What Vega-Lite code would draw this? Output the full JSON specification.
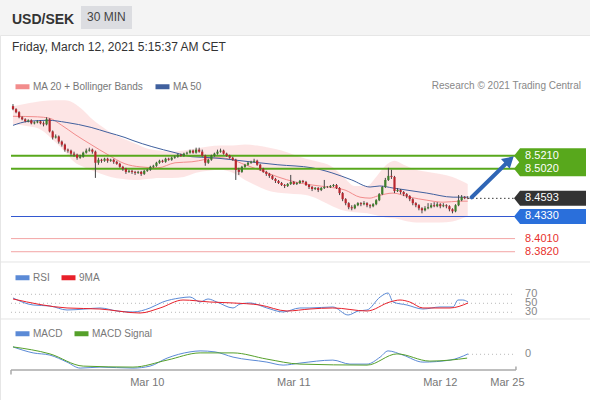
{
  "$schema": "https://vega.github.io/schema/vega-lite/v6.json",
  "width": 590,
  "height": 365,
  "autosize": {"type": "none"},
  "padding": {"top": 35, "left": 0, "right": 0, "bottom": 0},
  "background": "#f4f4f4",
  "config": {"font": "Liberation Sans", "view": {"fill": "white", "stroke": "#e6e6e6"}},
  "title": {"text": "USD/SEK", "subtitle": "Friday, March 12, 2021 5:15:37 AM CET", "anchor": "start", "frame": "group", "fontSize": 14, "fontWeight": "bold", "color": "#333333", "subtitleFontSize": 12, "subtitleColor": "#333333", "subtitlePadding": 15, "offset": -47, "dx": 12},
  "datasets": {
    "candles": [
      {"t":0,"o":8.5928,"h":8.5957,"l":8.5869,"c":8.5884},
      {"t":1,"o":8.5884,"h":8.5898,"l":8.5825,"c":8.5840},
      {"t":2,"o":8.5840,"h":8.5854,"l":8.5752,"c":8.5767},
      {"t":3,"o":8.5767,"h":8.5781,"l":8.5723,"c":8.5737},
      {"t":4,"o":8.5737,"h":8.5752,"l":8.5693,"c":8.5708},
      {"t":5,"o":8.5708,"h":8.5737,"l":8.5693,"c":8.5723},
      {"t":6,"o":8.5723,"h":8.5737,"l":8.5664,"c":8.5679},
      {"t":7,"o":8.5679,"h":8.5708,"l":8.5664,"c":8.5693},
      {"t":8,"o":8.5693,"h":8.5723,"l":8.5679,"c":8.5708},
      {"t":9,"o":8.5708,"h":8.5723,"l":8.5664,"c":8.5679},
      {"t":10,"o":8.5679,"h":8.5708,"l":8.5635,"c":8.5664},
      {"t":11,"o":8.5664,"h":8.5767,"l":8.5650,"c":8.5737},
      {"t":12,"o":8.5737,"h":8.5752,"l":8.5547,"c":8.5562},
      {"t":13,"o":8.5562,"h":8.5576,"l":8.5445,"c":8.5474},
      {"t":14,"o":8.5474,"h":8.5518,"l":8.5459,"c":8.5489},
      {"t":15,"o":8.5489,"h":8.5503,"l":8.5386,"c":8.5415},
      {"t":16,"o":8.5415,"h":8.5430,"l":8.5342,"c":8.5371},
      {"t":17,"o":8.5371,"h":8.5386,"l":8.5269,"c":8.5298},
      {"t":18,"o":8.5298,"h":8.5313,"l":8.5254,"c":8.5284},
      {"t":19,"o":8.5284,"h":8.5298,"l":8.5210,"c":8.5240},
      {"t":20,"o":8.5240,"h":8.5269,"l":8.5196,"c":8.5225},
      {"t":21,"o":8.5225,"h":8.5240,"l":8.5152,"c":8.5181},
      {"t":22,"o":8.5181,"h":8.5225,"l":8.5166,"c":8.5196},
      {"t":23,"o":8.5196,"h":8.5269,"l":8.5181,"c":8.5254},
      {"t":24,"o":8.5254,"h":8.5313,"l":8.5240,"c":8.5284},
      {"t":25,"o":8.5284,"h":8.5327,"l":8.5269,"c":8.5298},
      {"t":26,"o":8.5298,"h":8.5313,"l":8.5240,"c":8.5269},
      {"t":27,"o":8.5269,"h":8.5284,"l":8.4889,"c":8.5108},
      {"t":28,"o":8.5108,"h":8.5181,"l":8.5079,"c":8.5152},
      {"t":29,"o":8.5152,"h":8.5166,"l":8.5108,"c":8.5137},
      {"t":30,"o":8.5137,"h":8.5181,"l":8.5122,"c":8.5166},
      {"t":31,"o":8.5166,"h":8.5181,"l":8.5108,"c":8.5137},
      {"t":32,"o":8.5137,"h":8.5166,"l":8.5122,"c":8.5152},
      {"t":33,"o":8.5152,"h":8.5166,"l":8.5093,"c":8.5122},
      {"t":34,"o":8.5122,"h":8.5137,"l":8.5079,"c":8.5093},
      {"t":35,"o":8.5093,"h":8.5108,"l":8.5035,"c":8.5049},
      {"t":36,"o":8.5049,"h":8.5064,"l":8.4991,"c":8.5020},
      {"t":37,"o":8.5020,"h":8.5035,"l":8.4947,"c":8.4976},
      {"t":38,"o":8.4976,"h":8.5006,"l":8.4962,"c":8.4991},
      {"t":39,"o":8.4991,"h":8.5006,"l":8.4947,"c":8.4976},
      {"t":40,"o":8.4976,"h":8.4991,"l":8.4932,"c":8.4962},
      {"t":41,"o":8.4962,"h":8.4991,"l":8.4947,"c":8.4976},
      {"t":42,"o":8.4976,"h":8.4991,"l":8.4918,"c":8.4947},
      {"t":43,"o":8.4947,"h":8.5006,"l":8.4932,"c":8.4991},
      {"t":44,"o":8.4991,"h":8.5020,"l":8.4976,"c":8.5006},
      {"t":45,"o":8.5006,"h":8.5064,"l":8.4991,"c":8.5049},
      {"t":46,"o":8.5049,"h":8.5079,"l":8.5035,"c":8.5064},
      {"t":47,"o":8.5064,"h":8.5122,"l":8.5049,"c":8.5108},
      {"t":48,"o":8.5108,"h":8.5152,"l":8.5093,"c":8.5137},
      {"t":49,"o":8.5137,"h":8.5152,"l":8.5108,"c":8.5122},
      {"t":50,"o":8.5122,"h":8.5181,"l":8.5108,"c":8.5166},
      {"t":51,"o":8.5166,"h":8.5181,"l":8.5137,"c":8.5152},
      {"t":52,"o":8.5152,"h":8.5196,"l":8.5137,"c":8.5181},
      {"t":53,"o":8.5181,"h":8.5210,"l":8.5166,"c":8.5196},
      {"t":54,"o":8.5196,"h":8.5240,"l":8.5181,"c":8.5225},
      {"t":55,"o":8.5225,"h":8.5240,"l":8.5196,"c":8.5210},
      {"t":56,"o":8.5210,"h":8.5254,"l":8.5196,"c":8.5240},
      {"t":57,"o":8.5240,"h":8.5269,"l":8.5225,"c":8.5254},
      {"t":58,"o":8.5254,"h":8.5298,"l":8.5240,"c":8.5284},
      {"t":59,"o":8.5284,"h":8.5298,"l":8.5240,"c":8.5254},
      {"t":60,"o":8.5254,"h":8.5327,"l":8.5240,"c":8.5298},
      {"t":61,"o":8.5298,"h":8.5327,"l":8.5254,"c":8.5269},
      {"t":62,"o":8.5269,"h":8.5298,"l":8.5196,"c":8.5210},
      {"t":63,"o":8.5210,"h":8.5225,"l":8.5064,"c":8.5108},
      {"t":64,"o":8.5108,"h":8.5166,"l":8.5093,"c":8.5152},
      {"t":65,"o":8.5152,"h":8.5225,"l":8.5137,"c":8.5210},
      {"t":66,"o":8.5210,"h":8.5254,"l":8.5196,"c":8.5240},
      {"t":67,"o":8.5240,"h":8.5298,"l":8.5225,"c":8.5269},
      {"t":68,"o":8.5269,"h":8.5313,"l":8.5254,"c":8.5284},
      {"t":69,"o":8.5284,"h":8.5298,"l":8.5225,"c":8.5240},
      {"t":70,"o":8.5240,"h":8.5254,"l":8.5196,"c":8.5210},
      {"t":71,"o":8.5210,"h":8.5225,"l":8.5166,"c":8.5181},
      {"t":72,"o":8.5181,"h":8.5196,"l":8.5137,"c":8.5152},
      {"t":73,"o":8.5152,"h":8.5166,"l":8.4859,"c":8.5006},
      {"t":74,"o":8.5006,"h":8.5035,"l":8.4932,"c":8.4976},
      {"t":75,"o":8.4976,"h":8.5064,"l":8.4962,"c":8.5049},
      {"t":76,"o":8.5049,"h":8.5093,"l":8.5035,"c":8.5079},
      {"t":77,"o":8.5079,"h":8.5122,"l":8.5064,"c":8.5108},
      {"t":78,"o":8.5108,"h":8.5137,"l":8.5093,"c":8.5122},
      {"t":79,"o":8.5122,"h":8.5166,"l":8.5108,"c":8.5137},
      {"t":80,"o":8.5137,"h":8.5152,"l":8.5064,"c":8.5079},
      {"t":81,"o":8.5079,"h":8.5093,"l":8.4991,"c":8.5020},
      {"t":82,"o":8.5020,"h":8.5035,"l":8.4962,"c":8.4976},
      {"t":83,"o":8.4976,"h":8.4991,"l":8.4918,"c":8.4947},
      {"t":84,"o":8.4947,"h":8.4962,"l":8.4889,"c":8.4918},
      {"t":85,"o":8.4918,"h":8.4932,"l":8.4859,"c":8.4874},
      {"t":86,"o":8.4874,"h":8.4889,"l":8.4815,"c":8.4845},
      {"t":87,"o":8.4845,"h":8.4859,"l":8.4801,"c":8.4815},
      {"t":88,"o":8.4815,"h":8.4830,"l":8.4772,"c":8.4786},
      {"t":89,"o":8.4786,"h":8.4801,"l":8.4742,"c":8.4772},
      {"t":90,"o":8.4772,"h":8.4815,"l":8.4757,"c":8.4801},
      {"t":91,"o":8.4801,"h":8.4932,"l":8.4786,"c":8.4830},
      {"t":92,"o":8.4830,"h":8.4845,"l":8.4786,"c":8.4801},
      {"t":93,"o":8.4801,"h":8.4830,"l":8.4786,"c":8.4815},
      {"t":94,"o":8.4815,"h":8.4859,"l":8.4801,"c":8.4845},
      {"t":95,"o":8.4845,"h":8.4859,"l":8.4815,"c":8.4830},
      {"t":96,"o":8.4830,"h":8.4845,"l":8.4772,"c":8.4786},
      {"t":97,"o":8.4786,"h":8.4801,"l":8.4728,"c":8.4757},
      {"t":98,"o":8.4757,"h":8.4772,"l":8.4698,"c":8.4728},
      {"t":99,"o":8.4728,"h":8.4757,"l":8.4713,"c":8.4742},
      {"t":100,"o":8.4742,"h":8.4757,"l":8.4684,"c":8.4713},
      {"t":101,"o":8.4713,"h":8.4757,"l":8.4698,"c":8.4742},
      {"t":102,"o":8.4742,"h":8.4859,"l":8.4728,"c":8.4757},
      {"t":103,"o":8.4757,"h":8.4772,"l":8.4742,"c":8.4760},
      {"t":104,"o":8.4757,"h":8.4786,"l":8.4742,"c":8.4772},
      {"t":105,"o":8.4772,"h":8.4801,"l":8.4757,"c":8.4786},
      {"t":106,"o":8.4786,"h":8.4801,"l":8.4728,"c":8.4742},
      {"t":107,"o":8.4742,"h":8.4757,"l":8.4640,"c":8.4669},
      {"t":108,"o":8.4669,"h":8.4684,"l":8.4552,"c":8.4581},
      {"t":109,"o":8.4581,"h":8.4596,"l":8.4493,"c":8.4523},
      {"t":110,"o":8.4523,"h":8.4537,"l":8.4435,"c":8.4464},
      {"t":111,"o":8.4464,"h":8.4493,"l":8.4420,"c":8.4449},
      {"t":112,"o":8.4449,"h":8.4508,"l":8.4435,"c":8.4493},
      {"t":113,"o":8.4493,"h":8.4537,"l":8.4479,"c":8.4523},
      {"t":114,"o":8.4523,"h":8.4537,"l":8.4479,"c":8.4508},
      {"t":115,"o":8.4508,"h":8.4552,"l":8.4493,"c":8.4523},
      {"t":116,"o":8.4523,"h":8.4537,"l":8.4464,"c":8.4493},
      {"t":117,"o":8.4493,"h":8.4508,"l":8.4449,"c":8.4479},
      {"t":118,"o":8.4479,"h":8.4523,"l":8.4464,"c":8.4508},
      {"t":119,"o":8.4508,"h":8.4581,"l":8.4493,"c":8.4566},
      {"t":120,"o":8.4566,"h":8.4669,"l":8.4552,"c":8.4654},
      {"t":121,"o":8.4654,"h":8.4772,"l":8.4640,"c":8.4757},
      {"t":122,"o":8.4757,"h":8.4889,"l":8.4742,"c":8.4859},
      {"t":123,"o":8.4859,"h":8.5035,"l":8.4845,"c":8.4918},
      {"t":124,"o":8.4918,"h":8.5006,"l":8.4874,"c":8.4903},
      {"t":125,"o":8.4903,"h":8.4918,"l":8.4669,"c":8.4698},
      {"t":126,"o":8.4698,"h":8.4742,"l":8.4684,"c":8.4713},
      {"t":127,"o":8.4713,"h":8.4728,"l":8.4654,"c":8.4684},
      {"t":128,"o":8.4684,"h":8.4698,"l":8.4625,"c":8.4654},
      {"t":129,"o":8.4654,"h":8.4669,"l":8.4596,"c":8.4625},
      {"t":130,"o":8.4625,"h":8.4640,"l":8.4552,"c":8.4581},
      {"t":131,"o":8.4581,"h":8.4596,"l":8.4493,"c":8.4523},
      {"t":132,"o":8.4523,"h":8.4537,"l":8.4464,"c":8.4493},
      {"t":133,"o":8.4493,"h":8.4508,"l":8.4420,"c":8.4449},
      {"t":134,"o":8.4449,"h":8.4464,"l":8.4376,"c":8.4420},
      {"t":135,"o":8.4420,"h":8.4479,"l":8.4405,"c":8.4449},
      {"t":136,"o":8.4449,"h":8.4523,"l":8.4435,"c":8.4464},
      {"t":137,"o":8.4464,"h":8.4523,"l":8.4449,"c":8.4493},
      {"t":138,"o":8.4493,"h":8.4537,"l":8.4464,"c":8.4479},
      {"t":139,"o":8.4479,"h":8.4537,"l":8.4464,"c":8.4508},
      {"t":140,"o":8.4508,"h":8.4523,"l":8.4449,"c":8.4479},
      {"t":141,"o":8.4479,"h":8.4523,"l":8.4464,"c":8.4493},
      {"t":142,"o":8.4493,"h":8.4508,"l":8.4449,"c":8.4479},
      {"t":143,"o":8.4479,"h":8.4493,"l":8.4405,"c":8.4435},
      {"t":144,"o":8.4435,"h":8.4449,"l":8.4376,"c":8.4405},
      {"t":145,"o":8.4405,"h":8.4508,"l":8.4391,"c":8.4493},
      {"t":146,"o":8.4493,"h":8.4640,"l":8.4479,"c":8.4566},
      {"t":147,"o":8.4566,"h":8.4640,"l":8.4552,"c":8.4610},
      {"t":148,"o":8.4610,"h":8.4625,"l":8.4581,"c":8.4596},
      {"t":149,"o":8.4596,"h":8.4625,"l":8.4581,"c":8.4593}
    ],
    "bands": [
      {"t":0,"upper":8.5928,"lower":8.5664},
      {"t":5,"upper":8.5971,"lower":8.5635},
      {"t":9,"upper":8.6000,"lower":8.5591},
      {"t":14,"upper":8.6014,"lower":8.5401},
      {"t":17,"upper":8.6014,"lower":8.5269},
      {"t":20,"upper":8.5971,"lower":8.5122},
      {"t":23,"upper":8.5869,"lower":8.5049},
      {"t":26,"upper":8.5737,"lower":8.4991},
      {"t":29,"upper":8.5635,"lower":8.4947},
      {"t":32,"upper":8.5547,"lower":8.4903},
      {"t":36,"upper":8.5459,"lower":8.4874},
      {"t":40,"upper":8.5386,"lower":8.4859},
      {"t":44,"upper":8.5313,"lower":8.4874},
      {"t":48,"upper":8.5284,"lower":8.4889},
      {"t":52,"upper":8.5269,"lower":8.4889},
      {"t":56,"upper":8.5284,"lower":8.4903},
      {"t":60,"upper":8.5313,"lower":8.4962},
      {"t":64,"upper":8.5342,"lower":8.4991},
      {"t":68,"upper":8.5357,"lower":8.5006},
      {"t":72,"upper":8.5357,"lower":8.4962},
      {"t":76,"upper":8.5371,"lower":8.4859},
      {"t":80,"upper":8.5357,"lower":8.4772},
      {"t":84,"upper":8.5327,"lower":8.4698},
      {"t":88,"upper":8.5284,"lower":8.4669},
      {"t":92,"upper":8.5225,"lower":8.4654},
      {"t":96,"upper":8.5166,"lower":8.4640},
      {"t":100,"upper":8.5122,"lower":8.4581},
      {"t":104,"upper":8.5064,"lower":8.4493},
      {"t":108,"upper":8.4918,"lower":8.4420},
      {"t":112,"upper":8.4772,"lower":8.4391},
      {"t":116,"upper":8.4772,"lower":8.4376},
      {"t":119,"upper":8.4903,"lower":8.4347},
      {"t":122,"upper":8.5064,"lower":8.4317},
      {"t":125,"upper":8.5137,"lower":8.4303},
      {"t":128,"upper":8.5079,"lower":8.4273},
      {"t":132,"upper":8.5006,"lower":8.4244},
      {"t":136,"upper":8.4976,"lower":8.4244},
      {"t":140,"upper":8.4947,"lower":8.4244},
      {"t":144,"upper":8.4903,"lower":8.4259},
      {"t":149,"upper":8.4801,"lower":8.4332}
    ],
    "ma": [
      {"s":"ma20","t":0,"price":8.5781},{"s":"ma20","t":8,"price":8.5773},{"s":"ma20","t":12,"price":8.5752},{"s":"ma20","t":16,"price":8.5650},
      {"s":"ma20","t":20.3,"price":8.5518},{"s":"ma20","t":25.6,"price":8.5371},{"s":"ma20","t":31.1,"price":8.5225},{"s":"ma20","t":36.7,"price":8.5093},
      {"s":"ma20","t":41.6,"price":8.5049},{"s":"ma20","t":47.5,"price":8.5035},{"s":"ma20","t":53.1,"price":8.5108},{"s":"ma20","t":58.6,"price":8.5122},
      {"s":"ma20","t":67.2,"price":8.5181},{"s":"ma20","t":71.8,"price":8.5152},{"s":"ma20","t":76,"price":8.5079},{"s":"ma20","t":81.6,"price":8.4991},
      {"s":"ma20","t":86.8,"price":8.4903},{"s":"ma20","t":92.4,"price":8.4830},{"s":"ma20","t":98,"price":8.4786},{"s":"ma20","t":103.2,"price":8.4757},
      {"s":"ma20","t":108.8,"price":8.4713},{"s":"ma20","t":113.7,"price":8.4610},{"s":"ma20","t":117,"price":8.4596},{"s":"ma20","t":119.3,"price":8.4625},
      {"s":"ma20","t":124.5,"price":8.4669},{"s":"ma20","t":130,"price":8.4610},{"s":"ma20","t":135.6,"price":8.4566},{"s":"ma20","t":140.9,"price":8.4537},
      {"s":"ma20","t":146.5,"price":8.4552},{"s":"ma20","t":149,"price":8.4552},
      {"s":"ma50","t":0,"price":8.5650},{"s":"ma50","t":5,"price":8.5708},{"s":"ma50","t":11.5,"price":8.5723},{"s":"ma50","t":17.4,"price":8.5693},
      {"s":"ma50","t":25.6,"price":8.5620},{"s":"ma50","t":31.1,"price":8.5547},{"s":"ma50","t":36.7,"price":8.5474},{"s":"ma50","t":39.3,"price":8.5430},
      {"s":"ma50","t":45.5,"price":8.5342},{"s":"ma50","t":53.1,"price":8.5254},{"s":"ma50","t":58.6,"price":8.5196},{"s":"ma50","t":65.2,"price":8.5181},
      {"s":"ma50","t":71.8,"price":8.5152},{"s":"ma50","t":77.7,"price":8.5122},{"s":"ma50","t":86.8,"price":8.5079},{"s":"ma50","t":98,"price":8.5035},
      {"s":"ma50","t":104.5,"price":8.4962},{"s":"ma50","t":111,"price":8.4859},{"s":"ma50","t":117,"price":8.4757},{"s":"ma50","t":120.2,"price":8.4772},
      {"s":"ma50","t":124.5,"price":8.4742},{"s":"ma50","t":135.6,"price":8.4669},{"s":"ma50","t":144.2,"price":8.4610},{"s":"ma50","t":149,"price":8.4610}
    ],
    "levels": [
      {"price":8.5210,"label":"8.5210","kind":"resistance"},
      {"price":8.5020,"label":"8.5020","kind":"resistance"},
      {"price":8.4593,"label":"8.4593","kind":"last"},
      {"price":8.4330,"label":"8.4330","kind":"support"},
      {"price":8.4010,"label":"8.4010","kind":"support2"},
      {"price":8.3820,"label":"8.3820","kind":"support2"}
    ],
    "arrow": [
      {"t":150.3,"price":8.4608},
      {"t":162.7,"price":8.5146}
    ],
    "credit": [{"text":"Research © 2021 Trading Central"}],
    "days": [
      {"t":44,"label":"Mar 10"},
      {"t":92,"label":"Mar 11"},
      {"t":140,"label":"Mar 12"},
      {"t":162,"label":"Mar 25"}
    ],
    "rsi": [
      {"s":"RSI","t":0,"v":61.8},{"s":"RSI","t":6.6,"v":46.2},{"s":"RSI","t":12.1,"v":44},{"s":"RSI","t":17.7,"v":35.1},{"s":"RSI","t":23.6,"v":37.3},
      {"s":"RSI","t":28.5,"v":39.6},{"s":"RSI","t":34.1,"v":32.9},{"s":"RSI","t":39.3,"v":30.7},{"s":"RSI","t":44.9,"v":39.6},{"s":"RSI","t":49.1,"v":52.9},
      {"s":"RSI","t":54.7,"v":61.8},{"s":"RSI","t":58,"v":64},{"s":"RSI","t":61.3,"v":52.9},{"s":"RSI","t":63.9,"v":59.6},{"s":"RSI","t":66.8,"v":52.9},
      {"s":"RSI","t":72.1,"v":39.6},{"s":"RSI","t":74.4,"v":48.4},{"s":"RSI","t":77.7,"v":50.7},{"s":"RSI","t":83.2,"v":39.6},{"s":"RSI","t":88.5,"v":30.7},
      {"s":"RSI","t":94,"v":39.6},{"s":"RSI","t":97.3,"v":39.6},{"s":"RSI","t":104.8,"v":41.8},{"s":"RSI","t":109.8,"v":24},{"s":"RSI","t":113.1,"v":32.9},
      {"s":"RSI","t":116,"v":35.1},{"s":"RSI","t":120.3,"v":64},{"s":"RSI","t":122.9,"v":72.9},{"s":"RSI","t":124.5,"v":52.9},{"s":"RSI","t":129.1,"v":46.2},
      {"s":"RSI","t":134.3,"v":37.3},{"s":"RSI","t":139.9,"v":41.8},{"s":"RSI","t":144.2,"v":41.8},{"s":"RSI","t":145.8,"v":57.3},{"s":"RSI","t":147.4,"v":57.3},
      {"s":"RSI","t":149.1,"v":52.9},
      {"s":"9MA","t":0,"v":59.6},{"s":"9MA","t":17.7,"v":39.6},{"s":"9MA","t":28.5,"v":37.3},{"s":"9MA","t":41.6,"v":28.4},{"s":"9MA","t":48.2,"v":39.6},
      {"s":"9MA","t":55.7,"v":57.3},{"s":"9MA","t":64.5,"v":52.9},{"s":"9MA","t":72.1,"v":50.7},{"s":"9MA","t":80.9,"v":46.2},{"s":"9MA","t":89.8,"v":32.9},
      {"s":"9MA","t":97.3,"v":37.3},{"s":"9MA","t":104.8,"v":39.6},{"s":"9MA","t":116,"v":32.9},{"s":"9MA","t":123.5,"v":52.9},{"s":"9MA","t":126.8,"v":57.3},
      {"s":"9MA","t":130,"v":52.9},{"s":"9MA","t":134.3,"v":39.6},{"s":"9MA","t":143.2,"v":39.6},{"s":"9MA","t":149.1,"v":50.7}
    ],
    "rsiLevels": [{"lvl":70},{"lvl":50},{"lvl":30}],
    "macd": [
      {"s":"MACD","t":0,"v":0.0037},{"s":"MACD","t":6.6,"v":0.0007},{"s":"MACD","t":12.1,"v":-0.0004},{"s":"MACD","t":17.7,"v":-0.0039},{"s":"MACD","t":22,"v":-0.0069},
      {"s":"MACD","t":28.5,"v":-0.0064},{"s":"MACD","t":39.3,"v":-0.0069},{"s":"MACD","t":44.9,"v":-0.0059},{"s":"MACD","t":50.5,"v":-0.0019},{"s":"MACD","t":58,"v":0.0012},
      {"s":"MACD","t":61.3,"v":0.0017},{"s":"MACD","t":66.2,"v":0.0012},{"s":"MACD","t":72.1,"v":-0.0014},{"s":"MACD","t":83.2,"v":-0.0039},{"s":"MACD","t":88.5,"v":-0.0054},
      {"s":"MACD","t":94,"v":-0.0044},{"s":"MACD","t":104.8,"v":-0.0029},{"s":"MACD","t":110.4,"v":-0.0049},{"s":"MACD","t":116,"v":-0.0049},{"s":"MACD","t":120.3,"v":-0.0014},
      {"s":"MACD","t":122.9,"v":0.0017},{"s":"MACD","t":127.8,"v":-0.0004},{"s":"MACD","t":134.3,"v":-0.0039},{"s":"MACD","t":143.2,"v":-0.0029},{"s":"MACD","t":149.1,"v":0.0002},
      {"s":"MACD Signal","t":0,"v":0.0037},{"s":"MACD Signal","t":12.1,"v":0.0002},{"s":"MACD Signal","t":23,"v":-0.0059},{"s":"MACD Signal","t":39.3,"v":-0.0064},
      {"s":"MACD Signal","t":50.5,"v":-0.0029},{"s":"MACD Signal","t":61.3,"v":0.0007},{"s":"MACD Signal","t":72.1,"v":0.0007},{"s":"MACD Signal","t":83.2,"v":-0.0024},
      {"s":"MACD Signal","t":94,"v":-0.0049},{"s":"MACD Signal","t":116,"v":-0.0054},{"s":"MACD Signal","t":125.8,"v":0.0002},{"s":"MACD Signal","t":136.6,"v":-0.0034},
      {"s":"MACD Signal","t":143.2,"v":-0.0029},{"s":"MACD Signal","t":148.8,"v":-0.0019}
    ],
    "macdLevels": [{"lvl":0}]
  },
  "layer": [
    {
      "layer": [
        {
          "data": {"name": "bands"},
          "mark": {"type": "area", "color": "#fbd3d3", "opacity": 0.6, "interpolate": "monotone"},
          "encoding": {
            "x": {"field": "t", "type": "quantitative", "scale": {"domain": [-4.259, 189.06], "nice": false, "zero": false}, "axis": null},
            "y": {"field": "upper", "type": "quantitative", "scale": {"domain": [8.1673, 8.6958], "nice": false, "zero": false}, "axis": null},
            "y2": {"field": "lower"}
          }
        },
        {
          "data": {"name": "ma"},
          "mark": {"type": "line", "strokeWidth": 1, "interpolate": "monotone"},
          "encoding": {
            "x": {"field": "t", "type": "quantitative", "scale": {"domain": [-4.259, 189.06], "nice": false, "zero": false}, "axis": null},
            "y": {"field": "price", "type": "quantitative", "scale": {"domain": [8.1673, 8.6958], "nice": false, "zero": false}, "axis": null},
            "color": {"field": "s", "type": "nominal", "scale": {"domain": ["ma20", "ma50"], "range": ["#f28c8c", "#40609e"]},
              "legend": {"orient": "none", "legendX": 13, "legendY": 42, "direction": "horizontal", "title": null, "labelExpr": "datum.label == 'ma20' ? 'MA 20 + Bollinger Bands' : 'MA 50'", "symbolType": "stroke", "symbolSize": 196, "symbolStrokeWidth": 5, "labelFontSize": 10, "labelColor": "#777777", "labelOffset": 1, "columnPadding": 1, "padding": 0}}
          }
        },
        {
          "data": {"name": "credit"},
          "mark": {"type": "text", "align": "right", "baseline": "middle", "fontSize": 10, "fill": "#888888"},
          "encoding": {
            "x": {"datum": 186.1, "type": "quantitative", "scale": {"domain": [-4.259, 189.06], "nice": false, "zero": false}, "axis": null},
            "y": {"datum": 8.6219, "type": "quantitative", "scale": {"domain": [8.1673, 8.6958], "nice": false, "zero": false}, "axis": null},
            "text": {"field": "text"}
          }
        },
        {
          "data": {"name": "levels"},
          "transform": [{"filter": "datum.kind == 'resistance'"}],
          "mark": {"type": "rule", "color": "#58a81c", "strokeWidth": 2},
          "encoding": {
            "x": {"datum": -0.655, "type": "quantitative", "scale": {"domain": [-4.259, 189.06], "nice": false, "zero": false}, "axis": null},
            "x2": {"datum": 164.5},
            "y": {"field": "price", "type": "quantitative", "scale": {"domain": [8.1673, 8.6958], "nice": false, "zero": false}, "axis": null}
          }
        },
        {
          "data": {"name": "levels"},
          "transform": [{"filter": "datum.kind == 'support'"}],
          "mark": {"type": "rule", "color": "#3358d0", "strokeWidth": 1.2},
          "encoding": {
            "x": {"datum": -0.655, "type": "quantitative", "scale": {"domain": [-4.259, 189.06], "nice": false, "zero": false}, "axis": null},
            "x2": {"datum": 164.5},
            "y": {"field": "price", "type": "quantitative", "scale": {"domain": [8.1673, 8.6958], "nice": false, "zero": false}, "axis": null}
          }
        },
        {
          "data": {"name": "levels"},
          "transform": [{"filter": "datum.kind == 'support2'"}],
          "mark": {"type": "rule", "color": "#f3a5a5", "strokeWidth": 1},
          "encoding": {
            "x": {"datum": -0.655, "type": "quantitative", "scale": {"domain": [-4.259, 189.06], "nice": false, "zero": false}, "axis": null},
            "x2": {"datum": 164.5},
            "y": {"field": "price", "type": "quantitative", "scale": {"domain": [8.1673, 8.6958], "nice": false, "zero": false}, "axis": null}
          }
        },
        {
          "data": {"name": "levels"},
          "transform": [{"filter": "datum.kind == 'last'"}],
          "mark": {"type": "rule", "color": "#333333", "strokeWidth": 1, "strokeDash": [1.5, 2.5]},
          "encoding": {
            "x": {"datum": 149.1, "type": "quantitative", "scale": {"domain": [-4.259, 189.06], "nice": false, "zero": false}, "axis": null},
            "x2": {"datum": 164.5},
            "y": {"field": "price", "type": "quantitative", "scale": {"domain": [8.1673, 8.6958], "nice": false, "zero": false}, "axis": null}
          }
        },
        {
          "data": {"name": "candles"},
          "mark": {"type": "rule", "color": "#444444", "strokeWidth": 1},
          "encoding": {
            "x": {"field": "t", "type": "quantitative", "scale": {"domain": [-4.259, 189.06], "nice": false, "zero": false}, "axis": null},
            "y": {"field": "h", "type": "quantitative", "scale": {"domain": [8.1673, 8.6958], "nice": false, "zero": false}, "axis": null},
            "y2": {"field": "l"}
          }
        },
        {
          "data": {"name": "candles"},
          "mark": {"type": "rule", "strokeWidth": 2.2},
          "encoding": {
            "x": {"field": "t", "type": "quantitative", "scale": {"domain": [-4.259, 189.06], "nice": false, "zero": false}, "axis": null},
            "y": {"field": "o", "type": "quantitative", "scale": {"domain": [8.1673, 8.6958], "nice": false, "zero": false}, "axis": null},
            "y2": {"field": "c"},
            "stroke": {"condition": {"test": "datum.c > datum.o", "value": "#3d7f2b"}, "value": "#b8262e"}
          }
        },
        {
          "data": {"name": "arrow"},
          "mark": {"type": "line", "color": "#2f65b5", "strokeWidth": 4, "strokeCap": "round"},
          "encoding": {
            "x": {"field": "t", "type": "quantitative", "scale": {"domain": [-4.259, 189.06], "nice": false, "zero": false}, "axis": null},
            "y": {"field": "price", "type": "quantitative", "scale": {"domain": [8.1673, 8.6958], "nice": false, "zero": false}, "axis": null}
          }
        },
        {
          "data": {"name": "arrow"},
          "transform": [{"filter": "datum.t > 160"}],
          "mark": {"type": "point", "shape": "triangle-up", "angle": 48, "size": 170, "filled": true, "color": "#2f65b5", "opacity": 1},
          "encoding": {
            "x": {"field": "t", "type": "quantitative", "scale": {"domain": [-4.259, 189.06], "nice": false, "zero": false}, "axis": null},
            "y": {"field": "price", "type": "quantitative", "scale": {"domain": [8.1673, 8.6958], "nice": false, "zero": false}, "axis": null}
          }
        },
        {
          "data": {"name": "levels"},
          "transform": [{"filter": "datum.kind != 'support2'"}],
          "mark": {"type": "point", "shape": "M-1,0L-0.833,-0.208L1,-0.208L1,0.208L-0.833,0.208Z", "size": 5184, "filled": true, "opacity": 1, "strokeWidth": 0},
          "encoding": {
            "x": {"datum": 175.96, "type": "quantitative", "scale": {"domain": [-4.259, 189.06], "nice": false, "zero": false}, "axis": null},
            "y": {"field": "price", "type": "quantitative", "scale": {"domain": [8.1673, 8.6958], "nice": false, "zero": false}, "axis": null},
            "fill": {"field": "kind", "type": "nominal", "scale": {"domain": ["resistance", "last", "support"], "range": ["#58a81c", "#333333", "#2a6fdb"]}, "legend": null}
          }
        },
        {
          "data": {"name": "levels"},
          "transform": [{"filter": "datum.kind != 'support2'"}],
          "mark": {"type": "text", "align": "left", "baseline": "middle", "fontSize": 11, "fill": "white"},
          "encoding": {
            "x": {"datum": 167.8, "type": "quantitative", "scale": {"domain": [-4.259, 189.06], "nice": false, "zero": false}, "axis": null},
            "y": {"field": "price", "type": "quantitative", "scale": {"domain": [8.1673, 8.6958], "nice": false, "zero": false}, "axis": null},
            "text": {"field": "label"},
            "opacity": {"field": "label", "type": "nominal", "scale": {"range": [1, 1]},
              "legend": {"values": [], "title": "30 MIN", "orient": "none", "legendX": 81, "legendY": -29, "fillColor": "#dcdde1", "padding": 6, "titleFontSize": 12, "titleFontWeight": "normal", "titleColor": "#444444", "titlePadding": 0}}
          }
        },
        {
          "data": {"name": "levels"},
          "transform": [{"filter": "datum.kind == 'support2'"}],
          "mark": {"type": "text", "align": "left", "baseline": "middle", "fontSize": 11, "fill": "#e8302c"},
          "encoding": {
            "x": {"datum": 167.8, "type": "quantitative", "scale": {"domain": [-4.259, 189.06], "nice": false, "zero": false}, "axis": null},
            "y": {"field": "price", "type": "quantitative", "scale": {"domain": [8.1673, 8.6958], "nice": false, "zero": false}, "axis": null},
            "text": {"field": "label"}
          }
        }
      ]
    },
    {
      "layer": [
        {
          "data": {"name": "macdLevels"},
          "mark": {"type": "rule", "color": "#e4e4e4", "strokeWidth": 1},
          "encoding": {
            "x": {"datum": -4.259, "type": "quantitative", "scale": {"domain": [-4.259, 189.06], "nice": false, "zero": false}, "axis": null},
            "x2": {"datum": 189.06},
            "y": {"datum": 141.8, "type": "quantitative", "scale": {"domain": [-164.9, 646.2], "nice": false, "zero": false}, "axis": null}
          }
        },
        {
          "data": {"name": "macdLevels"},
          "mark": {"type": "rule", "color": "#e4e4e4", "strokeWidth": 1},
          "encoding": {
            "x": {"datum": -4.259, "type": "quantitative", "scale": {"domain": [-4.259, 189.06], "nice": false, "zero": false}, "axis": null},
            "x2": {"datum": 189.06},
            "y": {"datum": 15.1, "type": "quantitative", "scale": {"domain": [-164.9, 646.2], "nice": false, "zero": false}, "axis": null}
          }
        },
        {
          "data": {"name": "rsiLevels"},
          "mark": {"type": "rule", "color": "#b8b8b8", "strokeWidth": 1, "strokeDash": [1, 3]},
          "encoding": {
            "x": {"datum": -0.655, "type": "quantitative", "scale": {"domain": [-4.259, 189.06], "nice": false, "zero": false}, "axis": null},
            "x2": {"datum": 164.5},
            "y": {"field": "lvl", "type": "quantitative", "scale": {"domain": [-164.9, 646.2], "nice": false, "zero": false}, "axis": null}
          }
        },
        {
          "data": {"name": "rsiLevels"},
          "mark": {"type": "text", "align": "left", "baseline": "middle", "fontSize": 11, "fill": "#888888"},
          "encoding": {
            "x": {"datum": 167.8, "type": "quantitative", "scale": {"domain": [-4.259, 189.06], "nice": false, "zero": false}, "axis": null},
            "y": {"field": "lvl", "type": "quantitative", "scale": {"domain": [-164.9, 646.2], "nice": false, "zero": false}, "axis": null},
            "text": {"field": "lvl"}
          }
        },
        {
          "data": {"name": "rsi"},
          "mark": {"type": "line", "strokeWidth": 1, "interpolate": "monotone"},
          "encoding": {
            "x": {"field": "t", "type": "quantitative", "scale": {"domain": [-4.259, 189.06], "nice": false, "zero": false}, "axis": null},
            "y": {"field": "v", "type": "quantitative", "scale": {"domain": [-164.9, 646.2], "nice": false, "zero": false}, "axis": null},
            "color": {"field": "s", "type": "nominal", "scale": {"domain": ["RSI", "9MA"], "range": ["#5b8ad6", "#e8202a"]},
              "legend": {"orient": "none", "legendX": 13, "legendY": 233, "direction": "horizontal", "title": null, "symbolType": "stroke", "symbolSize": 196, "symbolStrokeWidth": 5, "labelFontSize": 10, "labelColor": "#777777", "labelOffset": 1, "columnPadding": 1, "padding": 0}}
          }
        }
      ]
    },
    {
      "layer": [
        {
          "data": {"name": "macdLevels"},
          "mark": {"type": "rule", "color": "#b8b8b8", "strokeWidth": 1, "strokeDash": [1, 3]},
          "encoding": {
            "x": {"datum": 149.1, "type": "quantitative", "scale": {"domain": [-4.259, 189.06], "nice": false, "zero": false}, "axis": null},
            "x2": {"datum": 164.5},
            "y": {"field": "lvl", "type": "quantitative", "scale": {"domain": [-0.02285, 0.15965], "nice": false, "zero": false}, "axis": null}
          }
        },
        {
          "data": {"name": "macdLevels"},
          "mark": {"type": "text", "align": "left", "baseline": "middle", "fontSize": 11, "fill": "#888888"},
          "encoding": {
            "x": {"datum": 167.8, "type": "quantitative", "scale": {"domain": [-4.259, 189.06], "nice": false, "zero": false}, "axis": null},
            "y": {"field": "lvl", "type": "quantitative", "scale": {"domain": [-0.02285, 0.15965], "nice": false, "zero": false}, "axis": null},
            "text": {"field": "lvl"}
          }
        },
        {
          "data": {"name": "macd"},
          "mark": {"type": "line", "strokeWidth": 1, "interpolate": "monotone"},
          "encoding": {
            "x": {"field": "t", "type": "quantitative", "scale": {"domain": [-4.259, 189.06], "nice": false, "zero": false}, "axis": null},
            "y": {"field": "v", "type": "quantitative", "scale": {"domain": [-0.02285, 0.15965], "nice": false, "zero": false}, "axis": null},
            "color": {"field": "s", "type": "nominal", "scale": {"domain": ["MACD", "MACD Signal"], "range": ["#5b8ad6", "#55a02a"]},
              "legend": {"orient": "none", "legendX": 13, "legendY": 289, "direction": "horizontal", "title": null, "symbolType": "stroke", "symbolSize": 196, "symbolStrokeWidth": 5, "labelFontSize": 10, "labelColor": "#777777", "labelOffset": 1, "columnPadding": 1, "padding": 0}}
          }
        },
        {
          "data": {"name": "macdLevels"},
          "mark": {"type": "rule", "color": "#aaaaaa", "strokeWidth": 1.5},
          "encoding": {
            "x": {"datum": -0.655, "type": "quantitative", "scale": {"domain": [-4.259, 189.06], "nice": false, "zero": false}, "axis": null},
            "x2": {"datum": 164.8},
            "y": {"datum": -0.00785, "type": "quantitative", "scale": {"domain": [-0.02285, 0.15965], "nice": false, "zero": false}, "axis": null}
          }
        },
        {
          "data": {"name": "macdLevels"},
          "mark": {"type": "rule", "color": "#aaaaaa", "strokeWidth": 1.5},
          "encoding": {
            "x": {"datum": -0.655, "type": "quantitative", "scale": {"domain": [-4.259, 189.06], "nice": false, "zero": false}, "axis": null},
            "y": {"datum": -0.00785, "type": "quantitative", "scale": {"domain": [-0.02285, 0.15965], "nice": false, "zero": false}, "axis": null},
            "y2": {"datum": -0.0101}
          }
        },
        {
          "data": {"name": "macdLevels"},
          "mark": {"type": "rule", "color": "#aaaaaa", "strokeWidth": 1.5},
          "encoding": {
            "x": {"datum": 164.8, "type": "quantitative", "scale": {"domain": [-4.259, 189.06], "nice": false, "zero": false}, "axis": null},
            "y": {"datum": -0.0061, "type": "quantitative", "scale": {"domain": [-0.02285, 0.15965], "nice": false, "zero": false}, "axis": null},
            "y2": {"datum": -0.00785}
          }
        },
        {
          "data": {"name": "days"},
          "mark": {"type": "text", "align": "center", "baseline": "middle", "fontSize": 11, "fill": "#777777"},
          "encoding": {
            "x": {"field": "t", "type": "quantitative", "scale": {"domain": [-4.259, 189.06], "nice": false, "zero": false}, "axis": null},
            "y": {"datum": -0.01435, "type": "quantitative", "scale": {"domain": [-0.02285, 0.15965], "nice": false, "zero": false}, "axis": null},
            "text": {"field": "label"}
          }
        }
      ]
    }
  ],
  "resolve": {"scale": {"y": "independent", "color": "independent"}}
}
